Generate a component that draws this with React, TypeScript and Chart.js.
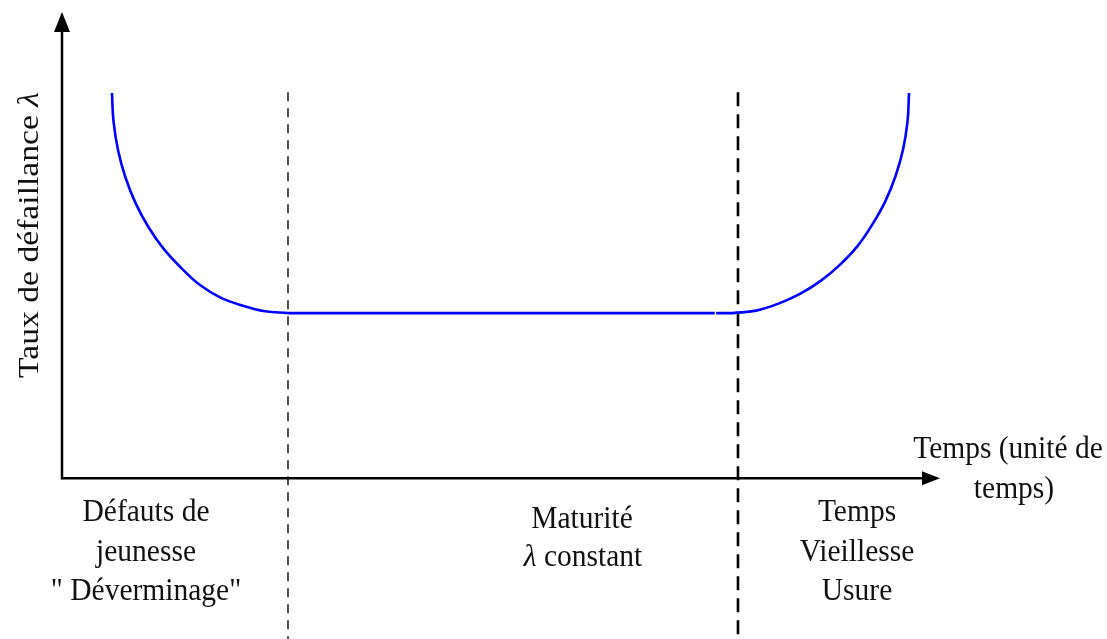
import React, { useEffect, useRef } from "react";
import { Chart, registerables } from "chart.js";
Chart.register(...registerables);

// Bathtub curve (time in % of horizon, failure rate in arbitrary units)
// Phase 1: infant mortality (decreasing rate)
const infantX = [5.69, 5.87, 6.38, 7.22, 8.38, 9.84, 11.56, 13.54, 15.72, 18.06, 20.56, 23.12, 25.74];
const infantY = [82.62, 76.46, 70.41, 64.55, 59.01, 53.88, 49.23, 45.17, 41.42, 38.73, 37.02, 35.82, 35.41];
// Phase 2: maturity (constant rate) — null marks the small break in the original line
const matureX = [25.74, 74.35, 74.42, 74.5, 76.42];
const matureY = [35.41, 35.41, null, 35.41, 35.41];
// Phase 3: wear-out (increasing rate)
const wearX = [76.42, 79.04, 81.61, 84.1, 86.45, 88.62, 90.6, 92.32, 93.78, 94.94, 95.79, 96.3, 96.47];
const wearY = [35.41, 35.94, 37.45, 39.59, 42.38, 45.82, 49.79, 54.51, 59.44, 64.81, 70.49, 76.46, 82.62];

// Phase boundaries (x) and their vertical extent (y)
const phaseBoundaries = [25.74, 76.99];
const boundaryTop = 82.8;
const boundaryBottom = -34.5;

const yAxisTitle = "Taux de défaillance ";
const yAxisSymbol = "λ";
const xAxisTitle = ["Temps (unité de", "temps)"];
const phase1Lines = ["Défauts de", "jeunesse", "\" Déverminage\""];
const phase2Lines = ["Maturité", "constant"];
const phase3Lines = ["Temps", "Vieillesse", "Usure"];

const FONT = "\"Liberation Serif\", \"Times New Roman\", serif";
const FS = 29.5;
const SY = 1.05;
const BLUE = "#0000ff";

function drawLine(ctx: CanvasRenderingContext2D, text: string, cx: number, base: number) {
  ctx.save();
  ctx.translate(cx, base);
  ctx.scale(1, SY);
  ctx.font = `${FS}px ${FONT}`;
  ctx.textAlign = "center";
  ctx.textBaseline = "alphabetic";
  ctx.fillText(text, 0, 0);
  ctx.restore();
}

function drawLambdaLine(ctx: CanvasRenderingContext2D, rest: string, cx: number, base: number) {
  ctx.save();
  ctx.translate(cx, base);
  ctx.scale(1, SY);
  ctx.textBaseline = "alphabetic";
  ctx.textAlign = "left";
  ctx.font = `italic ${FS}px ${FONT}`;
  const wl = ctx.measureText("λ").width;
  ctx.font = `${FS}px ${FONT}`;
  const wr = ctx.measureText(" " + rest).width;
  const start = -(wl + wr) / 2;
  ctx.font = `italic ${FS}px ${FONT}`;
  ctx.fillText("λ", start, 0);
  ctx.font = `${FS}px ${FONT}`;
  ctx.fillText(" " + rest, start + wl, 0);
  ctx.restore();
}

const decorPlugin = {
  id: "decor",
  beforeDatasetsDraw(chart: any) {
    const ctx: CanvasRenderingContext2D = chart.ctx;
    const xs = chart.scales.x;
    const ys = chart.scales.y;
    const x0 = xs.getPixelForValue(0);
    const y0 = ys.getPixelForValue(0);
    const xEnd = xs.getPixelForValue(100);
    const yEnd = ys.getPixelForValue(100);
    ctx.save();
    ctx.strokeStyle = "#000";
    ctx.fillStyle = "#000";
    ctx.lineWidth = 2.5;
    // y axis
    ctx.beginPath();
    ctx.moveTo(x0, y0 + 1);
    ctx.lineTo(x0, yEnd + 18);
    ctx.stroke();
    ctx.beginPath();
    ctx.moveTo(x0, yEnd);
    ctx.lineTo(x0 - 8, yEnd + 20);
    ctx.lineTo(x0 + 8, yEnd + 20);
    ctx.closePath();
    ctx.fill();
    // x axis
    ctx.beginPath();
    ctx.moveTo(x0 - 1, y0);
    ctx.lineTo(xEnd - 16, y0);
    ctx.stroke();
    ctx.beginPath();
    ctx.moveTo(xEnd, y0);
    ctx.lineTo(xEnd - 18, y0 - 7);
    ctx.lineTo(xEnd - 18, y0 + 7);
    ctx.closePath();
    ctx.fill();
    ctx.restore();
  },
  afterDraw(chart: any) {
    const ctx: CanvasRenderingContext2D = chart.ctx;
    ctx.save();
    ctx.fillStyle = "#111";
    // y axis title, rotated
    ctx.save();
    ctx.translate(38, 235);
    ctx.rotate(-Math.PI / 2);
    ctx.scale(1.14, 1);
    ctx.textBaseline = "alphabetic";
    ctx.textAlign = "left";
    ctx.font = `${FS}px ${FONT}`;
    const w1 = ctx.measureText(yAxisTitle).width;
    ctx.font = `italic ${FS}px ${FONT}`;
    const w2 = ctx.measureText(yAxisSymbol).width;
    const st = -(w1 + w2) / 2;
    ctx.font = `${FS}px ${FONT}`;
    ctx.fillText(yAxisTitle, st, 0);
    ctx.font = `italic ${FS}px ${FONT}`;
    ctx.fillText(yAxisSymbol, st + w1, 0);
    ctx.restore();

    // x axis title
    drawLine(ctx, xAxisTitle[0], 1008, 458);
    drawLine(ctx, xAxisTitle[1], 1014, 498);

    // phase labels
    phase1Lines.forEach((t, i) => drawLine(ctx, t, 146, 521 + i * 39.5));
    drawLine(ctx, phase2Lines[0], 582, 528);
    drawLambdaLine(ctx, phase2Lines[1], 583, 566);
    phase3Lines.forEach((t, i) => drawLine(ctx, t, 857, 521 + i * 39.5));
    ctx.restore();
  },
};

const toPoints = (xs: number[], ys: (number | null)[]) => xs.map((x, i) => ({ x, y: ys[i] }));

export default function App() {
  const ref = useRef<HTMLCanvasElement | null>(null);
  useEffect(() => {
    document.body.style.margin = "0";
    const canvas = ref.current!;
    const curveStyle = {
      borderColor: BLUE,
      borderWidth: 2.6,
      pointRadius: 0,
      fill: false,
      tension: 0.4,
    };
    const chart = new Chart(canvas, {
      type: "line",
      data: {
        datasets: [
          { ...curveStyle, data: toPoints(infantX, infantY) } as any,
          { ...curveStyle, tension: 0, data: toPoints(matureX, matureY) } as any,
          { ...curveStyle, data: toPoints(wearX, wearY) } as any,
          {
            data: [
              { x: phaseBoundaries[0], y: boundaryTop },
              { x: phaseBoundaries[0], y: boundaryBottom },
            ],
            borderColor: "#000",
            borderWidth: 1.4,
            borderDash: [9, 7],
            pointRadius: 0,
            fill: false,
          },
          {
            data: [
              { x: phaseBoundaries[1], y: boundaryTop },
              { x: phaseBoundaries[1], y: boundaryBottom },
            ],
            borderColor: "#000",
            borderWidth: 2.6,
            borderDash: [14, 8],
            pointRadius: 0,
            fill: false,
          },
        ],
      },
      options: {
        responsive: false,
        animation: false,
        layout: { padding: { left: 62, right: 167, top: 12, bottom: 0 } },
        plugins: { legend: { display: false }, tooltip: { enabled: false } },
        scales: {
          x: { type: "linear", min: 0, max: 100, display: false },
          y: { type: "linear", min: boundaryBottom, max: 100, display: false },
        },
      },
      plugins: [decorPlugin],
    });
    return () => chart.destroy();
  }, []);
  return <canvas ref={ref} width={1107} height={639} style={{ display: "block" }} />;
}
